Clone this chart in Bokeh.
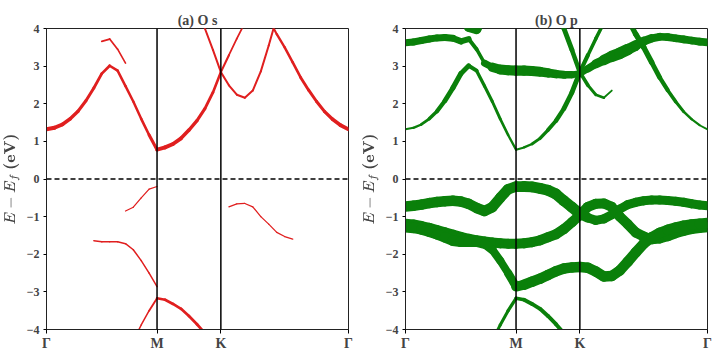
import math
from bokeh.plotting import figure
from bokeh.models import Range1d, Span, FixedTicker, CustomJSTickFormatter, ColumnDataSource
from bokeh.layouts import row
from bokeh.embed import file_html
from bokeh.resources import INLINE

N = None

# k-path positions (hexagonal path Gamma-M-K-Gamma)
K_TICKS = [0.0, 0.866, 1.366, 2.366]
K_LABELS = ["Γ", "M", "K", "Γ"]

# sampled k points along the path
K = [0.000, 0.062, 0.124, 0.186, 0.247, 0.309, 0.371, 0.433, 0.495, 0.557, 0.619, 0.680, 0.742, 0.804, 0.866,
     0.929, 0.991, 1.054, 1.116, 1.179, 1.241, 1.304, 1.366,
     1.429, 1.491, 1.554, 1.616, 1.679, 1.741, 1.804, 1.866, 1.929, 1.991, 2.054, 2.116, 2.179, 2.241, 2.304, 2.366]

# band energies E - Ef (eV)
E_C1 = [1.32, 1.36, 1.45, 1.60, 1.80, 2.08, 2.42, 2.80, 3.01, 2.88, 2.47, 2.06, 1.60, 1.17, 0.78,
        0.84, 0.93, 1.08, 1.30, 1.55, 1.87, 2.30, 2.84,
        3.29, 3.73, 4.15, 4.60, 4.60, 4.25, 3.85, 3.50, 3.10, 2.70, 2.36, 2.06, 1.79, 1.59, 1.43, 1.32]
E_B = [N, N, N, N, N, N, N, N, N, N, N, N, N, N, N,
       N, N, N, 5.15, 4.58, 4.00, 3.43, 2.84,
       2.49, 2.24, 2.16, 2.35, 2.86, 3.55, 4.30, N, N, N, N, N, N, N, N, N]
E_E = [3.62, 3.64, 3.68, 3.72, 3.75, 3.76, 3.74, 3.66, 3.72, 3.45, 3.08, 2.97, 2.91, 2.89, 2.88,
       2.88, 2.87, 2.85, 2.82, 2.79, 2.77, 2.77, 2.80,
       2.93, 3.06, 3.16, 3.26, 3.34, 3.44, 3.55, 3.66, 3.74, 3.78, 3.77, 3.74, 3.71, 3.68, 3.65, 3.63]
E_F = [N, N, N, N, N, N, N, 4.40, 4.04, 3.98, 4.35, N, N, N, N,
       N, N, N, N, N, N, N, N,
       N, N, N, N, N, N, N, N, N, N, N, N, N, N, N, N]
E_V1 = [-0.73, -0.71, -0.68, -0.64, -0.61, -0.59, -0.58, -0.60, -0.66, -0.77, -0.85, -0.75, -0.50, -0.27, -0.20,
        -0.20, -0.21, -0.25, -0.30, -0.40, -0.58, -0.75, -0.93,
        -1.03, -1.10, -1.06, -0.95, -0.80, -0.68, -0.62, -0.58, -0.56, -0.56, -0.57, -0.59, -0.62, -0.66, -0.69, -0.71]
E_V2 = [-1.19, -1.21, -1.25, -1.30, -1.36, -1.42, -1.48, -1.54, -1.59, -1.63, -1.66, -1.69, -1.71, -1.72, -1.72,
        -1.71, -1.68, -1.63, -1.55, -1.47, -1.33, -1.15, -0.96,
        -0.74, -0.66, -0.65, -0.74, -1.00, -1.20, -1.42, -1.53, -1.60, -1.58, -1.52, -1.44, -1.38, -1.33, -1.30, -1.28]
E_V3 = [-1.28, -1.30, -1.34, -1.40, -1.47, -1.55, -1.64, -1.67, -1.67, -1.67, -1.72, -1.88, -2.17, -2.50, -2.86,
        -2.81, -2.73, -2.65, -2.55, -2.45, -2.38, -2.35, -2.34,
        -2.36, -2.46, -2.59, -2.58, -2.43, -2.20, -1.95, -1.72, -1.55, -1.43, -1.35, -1.29, -1.24, -1.21, -1.19, -1.17]
E_V5 = [N, N, N, N, N, N, N, N, N, N, N, -4.30, -3.88, -3.50, -3.17,
        -3.21, -3.32, -3.45, -3.64, -3.86, -4.10, -4.35, N,
        N, N, N, N, N, N, N, N, N, N, N, N, N, N, N, N]

# O s projection weights (panel a)
WS_C1 = [.85, .80, .75, .70, .65, .60, .60, .55, .55, .50, .50, .50, .50, .55, .70,
         .80, .80, .75, .70, .65, .60, .55, .50,
         .35, .35, .35, .35, .35, .40, .45, .50, .50, .55, .60, .60, .65, .70, .75, .80]
WS_B = [0, 0, 0, 0, 0, 0, 0, 0, 0, 0, 0, 0, 0, 0, 0,
        0, 0, 0, .40, .40, .40, .40, .40,
        .40, .40, .40, .40, .40, .40, .40, 0, 0, 0, 0, 0, 0, 0, 0, 0]
WS_E = [0, 0, 0, 0, 0, 0, 0, .35, .35, .35, .30, 0, 0, 0, 0,
        0, 0, 0, 0, 0, 0, 0, 0,
        0, 0, 0, 0, 0, 0, 0, 0, 0, 0, 0, 0, 0, 0, 0, 0]
WS_F = [0, 0, 0, 0, 0, 0, 0, 0, 0, 0, 0, 0, 0, 0, 0,
        0, 0, 0, 0, 0, 0, 0, 0,
        0, 0, 0, 0, 0, 0, 0, 0, 0, 0, 0, 0, 0, 0, 0, 0]
WS_V1 = [0, 0, 0, 0, 0, 0, 0, 0, 0, 0, .25, .25, .25, .25, .25,
         0, 0, 0, 0, 0, 0, 0, 0,
         0, 0, 0, 0, 0, 0, 0, 0, 0, 0, 0, 0, 0, 0, 0, 0]
WS_V2 = [0, 0, 0, 0, 0, 0, 0, 0, 0, 0, 0, 0, 0, 0, 0,
         0, 0, 0, 0, 0, 0, 0, 0,
         .25, .25, .25, .25, .25, .25, .25, .25, .25, 0, 0, 0, 0, 0, 0, 0]
WS_V3 = [0, 0, 0, 0, 0, 0, .30, .30, .30, .30, .30, .30, .30, .30, .30,
         0, 0, 0, 0, 0, 0, 0, 0,
         0, 0, 0, 0, 0, 0, 0, 0, 0, 0, 0, 0, 0, 0, 0, 0]
WS_V5 = [0, 0, 0, 0, 0, 0, 0, 0, 0, 0, 0, .30, .30, .30, .45,
         .55, .55, .55, .55, .55, .55, .55, 0,
         0, 0, 0, 0, 0, 0, 0, 0, 0, 0, 0, 0, 0, 0, 0, 0]

# O p projection weights (panel b)
WP_C1 = [.14, .15, .18, .22, .27, .33, .37, .37, .33, .25, .22, .22, .20, .18, .15,
         .15, .18, .22, .26, .30, .33, .35, .35,
         .25, .25, .25, .25, .30, .35, .40, .40, .37, .33, .28, .24, .20, .17, .14, .12]
WP_B = [0, 0, 0, 0, 0, 0, 0, 0, 0, 0, 0, 0, 0, 0, 0,
        0, 0, 0, .35, .35, .35, .35, .30,
        .22, .20, .16, .10, 0, 0, 0, 0, 0, 0, 0, 0, 0, 0, 0, 0]
WP_E = [.50, .50, .50, .50, .50, .50, .48, .45, .40, .15, .35, .65, .70, .72, .72,
        .72, .72, .70, .65, .60, .55, .50, .45,
        .50, .60, .70, .80, .85, .80, .72, .62, .58, .55, .55, .55, .55, .55, .55, .55]
WP_F = [0, 0, 0, 0, 0, 0, 0, .60, .70, .70, .60, 0, 0, 0, 0,
        0, 0, 0, 0, 0, 0, 0, 0,
        0, 0, 0, 0, 0, 0, 0, 0, 0, 0, 0, 0, 0, 0, 0, 0]
WP_V1 = [.75, .75, .75, .75, .75, .75, .75, .75, .75, .75, .75, .75, .75, .75, .75,
         .78, .78, .78, .78, .78, .78, .78, .78,
         .65, .65, .65, .65, .65, .65, .65, .65, .65, .65, .65, .65, .65, .65, .65, .65]
WP_V2 = [.72, .72, .72, .72, .72, .72, .72, .72, .72, .72, .72, .72, .72, .72, .72,
         .72, .72, .72, .72, .72, .72, .72, .72,
         .72, .72, .72, .72, .72, .72, .72, .72, .72, .72, .72, .72, .72, .72, .72, .72]
WP_V3 = [.75, .75, .75, .75, .75, .75, .75, .75, .75, .75, .70, .60, .55, .55, .65,
         .75, .75, .75, .75, .75, .75, .75, .75,
         .75, .75, .75, .75, .75, .75, .75, .75, .75, .75, .75, .75, .75, .75, .75, .75]
WP_V5 = [0, 0, 0, 0, 0, 0, 0, 0, 0, 0, 0, .20, .22, .22, .25,
         .28, .28, .28, .28, .28, .28, .28, 0,
         0, 0, 0, 0, 0, 0, 0, 0, 0, 0, 0, 0, 0, 0, 0, 0]

BANDS = [E_C1, E_B, E_E, E_F, E_V1, E_V2, E_V3, E_V5]
WEIGHTS_S = [WS_C1, WS_B, WS_E, WS_F, WS_V1, WS_V2, WS_V3, WS_V5]
WEIGHTS_P = [WP_C1, WP_B, WP_E, WP_F, WP_V1, WP_V2, WP_V3, WP_V5]

SERIF = "Liberation Serif"


def panel(title, weights, color, scale, border_left, border_right):
    p = figure(frame_width=302, frame_height=301,
               x_range=Range1d(K_TICKS[0], K_TICKS[-1]), y_range=Range1d(-4, 4),
               output_backend="svg", toolbar_location=None,
               min_border_left=border_left, min_border_right=border_right,
               min_border_top=28, min_border_bottom=15)
    p.grid.visible = False
    p.outline_line_color = "#222222"
    p.outline_line_width = 1
    p.background_fill_color = "white"
    p.border_fill_color = "white"

    for energies, w in zip(BANDS, weights):
        x0, y0, x1, y1, lw = [], [], [], [], []
        for i in range(len(K) - 1):
            if energies[i] is None or energies[i + 1] is None:
                continue
            if w[i] <= 0 or w[i + 1] <= 0:
                continue
            x0.append(K[i]); y0.append(energies[i])
            x1.append(K[i + 1]); y1.append(energies[i + 1])
            lw.append(0.5 * (w[i] + w[i + 1]) * scale)
        if x0:
            src = ColumnDataSource(dict(x0=x0, y0=y0, x1=x1, y1=y1, lw=lw))
            p.segment("x0", "y0", "x1", "y1", source=src, line_width="lw",
                      line_color=color, line_cap="round")

    for kv in K_TICKS[1:3]:
        p.add_layout(Span(location=kv, dimension="height", line_color="black", line_width=1.5))
    p.add_layout(Span(location=0, dimension="width", line_color="black", line_width=1.3, line_dash="5 3"))

    p.title.text = title
    p.title.align = "center"
    p.title.text_font = SERIF
    p.title.text_font_style = "bold"
    p.title.text_font_size = "14px"
    p.title.standoff = 2

    xa = p.xaxis[0]
    xa.ticker = FixedTicker(ticks=K_TICKS)
    xa.formatter = CustomJSTickFormatter(args=dict(labels=K_LABELS), code="return labels[index];")
    xa.major_label_text_font = SERIF
    xa.major_label_text_font_style = "bold"
    xa.major_label_text_font_size = "14px"
    xa.major_tick_out = 4
    xa.major_tick_in = 0
    xa.minor_tick_line_color = None
    xa.major_label_standoff = 2
    xa.axis_line_color = "#222222"

    ya = p.yaxis[0]
    ya.ticker = FixedTicker(ticks=[-4, -3, -2, -1, 0, 1, 2, 3, 4])
    ya.major_label_text_font = SERIF
    ya.major_label_text_font_style = "bold"
    ya.major_label_text_font_size = "12px"
    ya.major_tick_out = 3
    ya.major_tick_in = 0
    ya.minor_tick_line_color = None
    ya.major_label_standoff = 4
    ya.axis_line_color = "#222222"
    ya.axis_label = r"$$E - E_f\ \mathbf{(eV)}$$"
    ya.axis_label_text_font_size = "13px"
    ya.axis_label_standoff = 4
    return p


p1 = panel("(a) O s", WEIGHTS_S, "#e01f1f", 5, 39, 11)
p2 = panel("(b) O p", WEIGHTS_P, "#0a800a", 14, 40, 10)
layout = row(p1, p2)

open("out.html", "w").write(file_html(layout, INLINE))
